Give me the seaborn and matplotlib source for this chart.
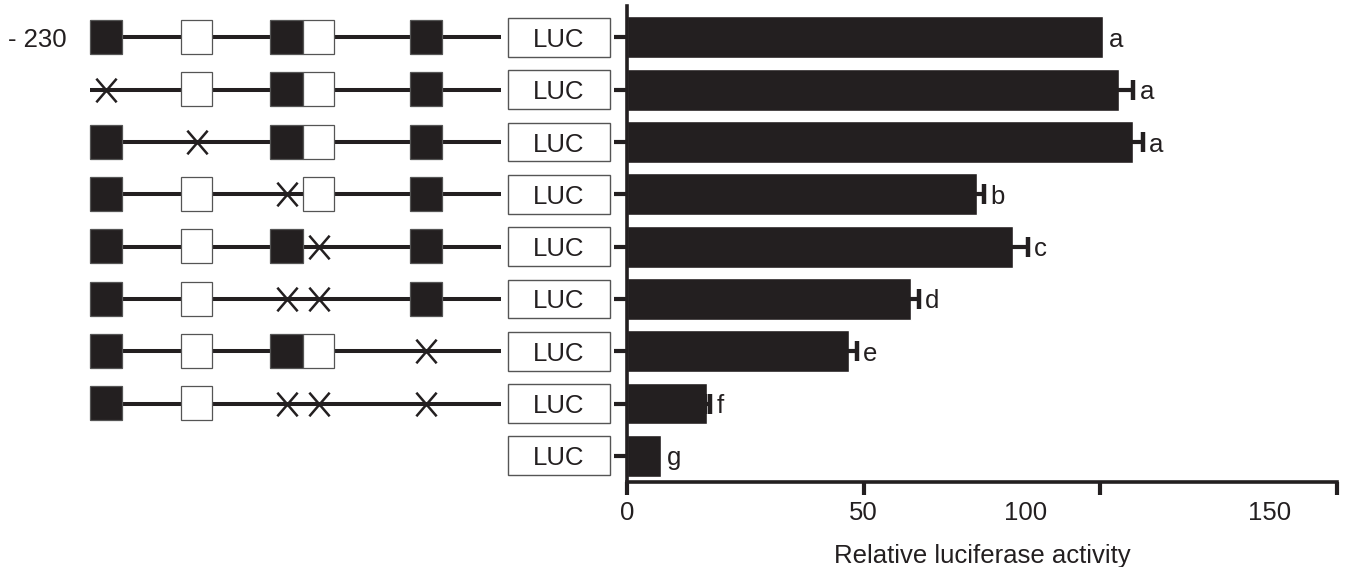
import numpy as np
import pandas as pd
import matplotlib
matplotlib.use('Agg')
import matplotlib.pyplot as plt
from matplotlib.patches import Rectangle
from matplotlib.path import Path
from matplotlib.transforms import ScaledTranslation
import seaborn as sns

# values
constructs = ['-230', 'mut1', 'mut2', 'mut3', 'mut4', 'mut34', 'mut5', 'mut345', 'LUC']
activity = [100.5, 104.0, 107.0, 74.0, 81.5, 60.0, 47.0, 17.0, 7.2]
sem = [0.0, 3.0, 2.0, 1.4, 3.2, 1.6, 1.6, 0.6, 0.0]
letters = ['a', 'a', 'a', 'b', 'c', 'd', 'e', 'f', 'g']
# which promoter elements are mutated in each construct (None = no promoter)
mutated = [[], [0], [1], [2], [3], [2, 3], [4], [2, 3, 4], None]
xticks = [0, 50, 100, 150]

dark = '#231f20'

sns.set_style('ticks')
plt.rcParams['font.family'] = ['Liberation Sans', 'DejaVu Sans']

fig = plt.figure(figsize=(13.47, 5.67), dpi=100)
ax = fig.add_axes([627 / 1347, 85 / 567, 710 / 1347, 476 / 567])

df = pd.DataFrame({'construct': constructs, 'activity': activity})
sns.barplot(data=df, x='activity', y='construct', orient='h', color=dark,
            saturation=1, width=0.8, errorbar=None, ax=ax)

# error bars: symmetric, the lower half disappears inside the dark bar
ypos = np.arange(len(constructs))
act = np.array(activity)
err = np.array(sem)
has = err > 0
ax.errorbar(act[has], ypos[has], xerr=err[has], fmt='none',
            ecolor=dark, elinewidth=3, capsize=7.5, capthick=3.2, zorder=1)

# significance letters
for i, (v, e, l) in enumerate(zip(activity, sem, letters)):
    ax.text(v + e + 1.3, i, l, va='center_baseline', ha='left', fontsize=18.5, color=dark)

ax.set_xlim(0, 150)
ax.set_ylim(8.5, -0.6)
ax.set_xticks(xticks)
ax.set_xticklabels([str(t) for t in xticks])
ax.set_yticks(ypos)
ax.set_yticklabels([])
ax.set_ylabel('')
ax.set_xlabel('Relative luciferase activity', fontsize=18.5, color=dark)
ax.xaxis.set_label_coords(0.5, -0.13)
ax.tick_params(axis='both', direction='out', length=9.5, width=3, color=dark,
               labelsize=18.5, labelcolor=dark, pad=4)
for s in ['left', 'bottom']:
    ax.spines[s].set_linewidth(2.6)
    ax.spines[s].set_color(dark)
sns.despine(ax=ax)

# the 100 and 150 labels sit left of their ticks in the original
shift = [0, 0, -75, -67]
for tick, dx in zip(ax.xaxis.get_major_ticks(), shift):
    tick.label1.set_transform(tick.label1.get_transform() +
                              ScaledTranslation(dx / 100, 0, fig.dpi_scale_trans))

# construct diagrams on the left
axd = fig.add_axes([0, 85 / 567, 627 / 1347, 476 / 567])
axd.set_xlim(0, 627)
axd.set_ylim(8.5, -0.6)
axd.axis('off')

elements = [(90, 122, dark), (181, 212, 'white'), (270, 303, dark),
            (303, 334, 'white'), (410, 442, dark)]
cross = Path([(-0.43, -0.5), (0.43, 0.5), (-0.43, 0.5), (0.43, -0.5)],
             [Path.MOVETO, Path.LINETO, Path.MOVETO, Path.LINETO])

for i, mut in enumerate(mutated):
    if mut is not None:
        axd.plot([90, 501], [i, i], lw=2.9, color=dark, solid_capstyle='butt', zorder=1)
        for j, (x0, x1, fc) in enumerate(elements):
            if j in mut:
                axd.plot([(x0 + x1) / 2], [i], marker=cross, markersize=17,
                         mew=1.8, color=dark, zorder=3)
            else:
                axd.add_patch(Rectangle((x0, i - 0.33), x1 - x0, 0.65, fc=fc,
                                        ec='#555555', lw=0.9, zorder=2))
    axd.add_patch(Rectangle((508, i - 0.37), 102, 0.74, fc='white',
                            ec='#555555', lw=1.0, zorder=2))
    axd.text(559, i, 'LUC', ha='center', va='center_baseline', fontsize=18.5, color=dark)

axd.text(8, 0, '- 230', ha='left', va='center_baseline', fontsize=18.5, color=dark)

fig.savefig('out.png', dpi=100)
